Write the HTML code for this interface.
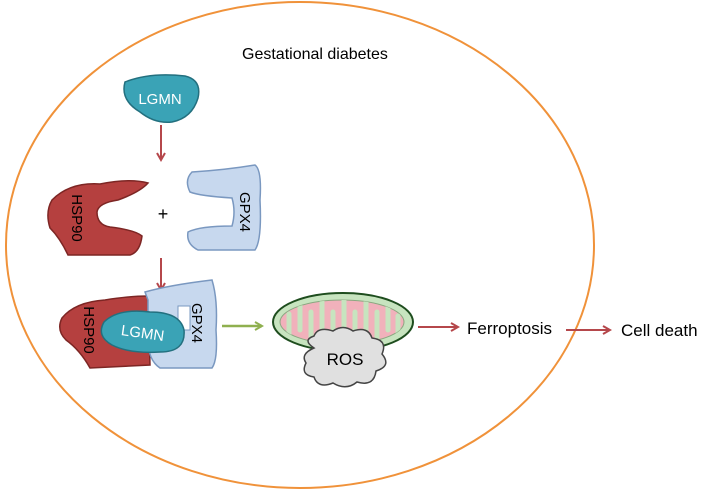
<!DOCTYPE html>
<html><head><style>body{margin:0;background:#fff}svg{display:block}text{font-family:"Liberation Sans",sans-serif}</style></head><body>
<svg width="709" height="492" viewBox="0 0 709 492" xmlns="http://www.w3.org/2000/svg">
<defs>
<marker id="ar" markerWidth="10" markerHeight="10" refX="8" refY="5" orient="auto" markerUnits="userSpaceOnUse"><path d="M1,1 L8,5 L1,9" fill="none" stroke="#b5474b" stroke-width="2"/></marker>
<marker id="ag" markerWidth="10" markerHeight="10" refX="8" refY="5" orient="auto" markerUnits="userSpaceOnUse"><path d="M1,1 L8,5 L1,9" fill="none" stroke="#8fb04f" stroke-width="2"/></marker>
<clipPath id="mc"><ellipse cx="342" cy="322" rx="62" ry="22"/></clipPath>
</defs>
<ellipse cx="300" cy="245" rx="294" ry="243" fill="none" stroke="#f0923a" stroke-width="2"/>
<text x="242" y="59" font-size="16">Gestational diabetes</text>
<!-- top LGMN -->
<path d="M125,82 Q150,72 185,76 Q202,80 198,98 Q192,118 172,122 Q155,124 140,112 Q120,100 125,82Z" fill="#3aa3b6" stroke="#23707f" stroke-width="1.5"/>
<text x="160" y="104" font-size="15" fill="#fff" text-anchor="middle">LGMN</text>
<line x1="161" y1="125" x2="161" y2="160" stroke="#b5474b" stroke-width="2" marker-end="url(#ar)"/>
<!-- HSP90 -->
<path d="M52,200 Q70,182 100,184 Q130,178 148,183 Q140,192 118,200 Q98,203 97,212 Q97,225 110,227 Q135,230 142,236 Q140,252 130,255 L68,255 Q60,238 50,228 Q45,212 52,200Z" fill="#b5403f" stroke="#7d2624" stroke-width="1.5"/>
<text transform="translate(72,218) rotate(90)" font-size="15" text-anchor="middle">HSP90</text>
<text x="163" y="220" font-size="18" text-anchor="middle">+</text>
<!-- GPX4 -->
<path d="M192,172 Q225,170 255,165 Q262,170 260,200 Q262,240 255,250 L198,250 Q186,244 188,232 Q200,226 232,226 Q236,212 232,198 Q200,196 190,192 Q184,180 192,172Z" fill="#c7d8ee" stroke="#7a98c0" stroke-width="1.5"/>
<text transform="translate(240,212) rotate(90)" font-size="15" text-anchor="middle">GPX4</text>
<line x1="161" y1="258" x2="161" y2="290" stroke="#b5474b" stroke-width="2" marker-end="url(#ar)"/>
<!-- complex -->
<path d="M62,318 Q75,302 105,300 Q130,296 148,296 L150,365 L90,368 Q80,350 66,340 Q56,330 62,318Z" fill="#b5403f" stroke="#7d2624" stroke-width="1.5"/>
<path d="M145,292 Q170,285 212,280 Q218,300 216,330 Q218,360 212,368 L160,368 Q148,360 148,340 L148,300Z" fill="#c7d8ee" stroke="#7a98c0" stroke-width="1.5"/>
<path d="M178,306 L190,306 L190,330 L178,330Z" fill="#fff" stroke="#7a98c0"/>
<text transform="translate(192,323) rotate(90)" font-size="15" text-anchor="middle">GPX4</text>
<text transform="translate(84,330) rotate(90)" font-size="15" text-anchor="middle">HSP90</text>
<path d="M104,322 Q118,308 150,312 Q180,312 184,330 Q186,352 160,352 Q130,354 112,345 Q96,336 104,322Z" fill="#3aa3b6" stroke="#23707f" stroke-width="1.5"/>
<text transform="translate(142,338) rotate(8)" font-size="15" fill="#fff" text-anchor="middle">LGMN</text>
<line x1="222" y1="326" x2="262" y2="326" stroke="#8fb04f" stroke-width="2.5" marker-end="url(#ag)"/>
<!-- mitochondrion -->
<ellipse cx="343" cy="322" rx="70" ry="29" fill="#c7e4bf" stroke="#1e4d1e" stroke-width="2"/>
<ellipse cx="342" cy="322" rx="62" ry="22" fill="#f1b1bb" stroke="#8aa880" stroke-width="1"/>
<g clip-path="url(#mc)" stroke="#c7e4bf" stroke-width="5" stroke-linecap="round" fill="none">
<path d="M300,296 V330 M322,296 V332 M344,296 V332 M366,296 V332 M388,296 V330"/>
<path d="M289,350 V314 M311,350 V312 M333,350 V312 M355,350 V312 M377,350 V312 M398,350 V316"/>
</g>
<path d="M314,348 Q302,340 314,336 Q318,326 333,331 Q343,324 353,331 Q368,326 372,338 Q388,340 382,354 Q392,366 376,371 Q374,387 357,382 Q346,391 333,383 Q318,389 314,377 Q300,375 306,363 Q300,354 314,348Z" fill="#e0e0e0" stroke="#444" stroke-width="1.5"/>
<text x="345" y="365" font-size="17" text-anchor="middle">ROS</text>
<line x1="418" y1="327" x2="458" y2="327" stroke="#b5474b" stroke-width="2" marker-end="url(#ar)"/>
<text x="467" y="334" font-size="17">Ferroptosis</text>
<line x1="566" y1="330" x2="610" y2="330" stroke="#b5474b" stroke-width="2" marker-end="url(#ar)"/>
<text x="621" y="336" font-size="17">Cell death</text>
</svg>
</body></html>
